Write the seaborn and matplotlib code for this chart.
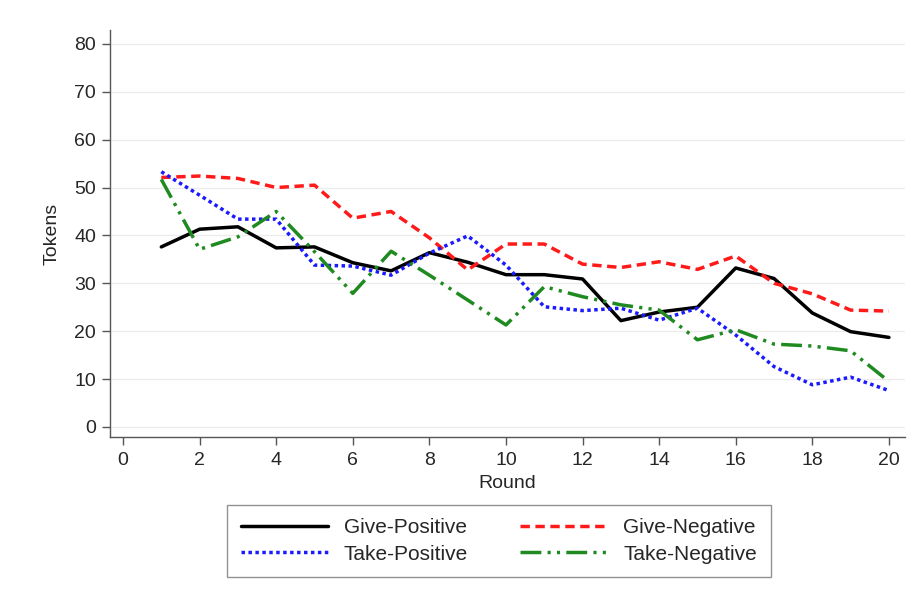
import seaborn as sns
import matplotlib.pyplot as plt
import numpy as np
import pandas as pd

rounds = list(range(1, 21))
give_positive = [37.6, 41.3, 41.8, 37.4, 37.6, 34.3, 32.6, 36.4, 34.4, 31.8,
                 31.8, 30.9, 22.2, 24.0, 25.0, 33.2, 31.0, 23.8, 19.9, 18.7]
give_negative = [52.1, 52.4, 51.9, 50.0, 50.5, 43.6, 45.0, 39.5, 32.8, 38.2,
                 38.2, 34.0, 33.3, 34.5, 32.9, 35.7, 30.0, 27.8, 24.4, 24.2]
take_positive = [53.3, 48.4, 43.4, 43.4, 33.8, 33.6, 31.7, 36.3, 39.9, 33.8,
                 25.1, 24.3, 24.8, 22.3, 24.8, 19.2, 12.6, 8.8, 10.4, 7.6]
take_negative = [51.7, 37.1, 39.7, 45.0, 36.6, 27.9, 36.7, 31.7, 26.5, 21.3,
                 29.3, 27.2, 25.5, 24.4, 18.2, 20.3, 17.3, 16.9, 15.9, 9.5]

groups = ["Give-Positive", "Give-Negative", "Take-Positive", "Take-Negative"]
series = [give_positive, give_negative, take_positive, take_negative]

df = pd.DataFrame({
    "Round": rounds * 4,
    "Tokens": np.concatenate(series),
    "Group": np.repeat(groups, len(rounds)),
})

palette = {"Give-Positive": "black", "Give-Negative": "#ff1a1a",
           "Take-Positive": "#1a1aff", "Take-Negative": "#1f8a1f"}
dashes = {"Give-Positive": "", "Give-Negative": (2.7, 1.6),
          "Take-Positive": (1, 1), "Take-Negative": (6, 1.8, 0.9, 1.8, 0.9, 1.8)}

sns.set_style("white")
plt.rcParams["font.family"] = ["Liberation Sans", "DejaVu Sans"]

fig = plt.figure(figsize=(9.17, 5.97), dpi=100)
ax = fig.add_axes([110 / 917, 1 - 437 / 597, 795 / 917, 407 / 597])

sns.lineplot(data=df, x="Round", y="Tokens", hue="Group", style="Group",
             palette=palette, dashes=dashes, hue_order=groups, style_order=groups,
             linewidth=2.5, ax=ax, legend=True)

ax.set_xlim(-0.34, 20.42)
ax.set_ylim(-2.1, 82.9)
ax.set_xticks(range(0, 21, 2))
ax.set_yticks(range(0, 81, 10))
ax.yaxis.grid(True, color="#ececec", linewidth=1)
ax.xaxis.grid(False)
for s in ["top", "right"]:
    ax.spines[s].set_visible(False)
for s in ["left", "bottom"]:
    ax.spines[s].set_color("#555555")
    ax.spines[s].set_linewidth(1)
ax.tick_params(axis="both", direction="out", length=6, width=1, color="#555555",
               labelsize=14, left=True, bottom=True)
ax.tick_params(axis="x", pad=5)
ax.tick_params(axis="y", pad=4)
ax.set_xlabel("Round", fontsize=14, labelpad=4)
ax.set_ylabel("Tokens", fontsize=14, labelpad=10)

# legend in rows: Give-Positive / Give-Negative, Take-Positive / Take-Negative
handles, labels = ax.get_legend_handles_labels()
ax.legend_.remove()
order = [0, 2, 1, 3]
leg = fig.legend([handles[i] for i in order], [labels[i] for i in order],
                 ncol=2, loc="center", bbox_to_anchor=(499 / 917, 1 - 541 / 597),
                 fontsize=15, frameon=True, fancybox=False, edgecolor="#777777",
                 handlelength=4.2, handletextpad=0.75, columnspacing=2.5,
                 borderpad=0.65, labelspacing=0.35)
leg.get_frame().set_linewidth(1)

fig.savefig("out.png", dpi=100)
